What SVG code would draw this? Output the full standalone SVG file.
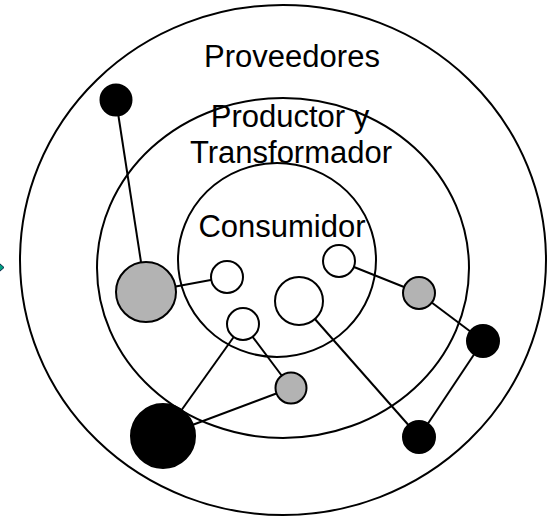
<svg xmlns="http://www.w3.org/2000/svg" width="553" height="518" viewBox="0 0 553 518">
<style>
.ring{fill:none;stroke:#000;stroke-width:2}
.lbl{font-family:"Liberation Sans",Arial,sans-serif;font-size:31px;fill:#000;text-anchor:middle}
.edge{stroke:#000;stroke-width:2;fill:none}
.w{fill:#fff;stroke:#000;stroke-width:2}
.g{fill:#b3b3b3;stroke:#000;stroke-width:2}
.b{fill:#000;stroke:#000;stroke-width:2}
</style>
<rect width="553" height="518" fill="#fff"/>
<g id="rings">
<ellipse class="ring" cx="283" cy="260" rx="263" ry="255"/>
<ellipse class="ring" cx="283" cy="268" rx="186" ry="170"/>
<ellipse class="ring" cx="277" cy="260" rx="99" ry="97"/>
</g>
<polygon id="marker-left" points="-1,263 4,267.5 -1,272" fill="#00a080" stroke="#024" stroke-width="1"/>
<g id="labels">
<text class="lbl" x="292" y="67">Proveedores</text>
<text class="lbl" x="290" y="127">Productor y</text>
<text class="lbl" x="291" y="163">Transformador</text>
<text class="lbl" x="282" y="237">Consumidor</text>
</g>
<g id="connectors">
<line class="edge" x1="116" y1="100" x2="141" y2="262"/>
<line class="edge" x1="146" y1="292" x2="227" y2="277"/>
<line class="edge" x1="243" y1="324" x2="163" y2="436"/>
<line class="edge" x1="243" y1="324" x2="291" y2="388"/>
<line class="edge" x1="163" y1="436" x2="291" y2="388"/>
<line class="edge" x1="299" y1="301" x2="419" y2="437"/>
<line class="edge" x1="339" y1="261" x2="419" y2="293"/>
<line class="edge" x1="419" y1="293" x2="483" y2="341"/>
<line class="edge" x1="483" y1="341" x2="419" y2="437"/>
</g>
<g id="n-black-top"><circle class="b" cx="116" cy="100" r="15.5"/></g>
<g id="n-gray-left"><circle class="g" cx="146" cy="292" r="30"/></g>
<g id="n-white-1"><circle class="w" cx="227" cy="277" r="16"/></g>
<g id="n-white-2"><circle class="w" cx="243" cy="324" r="16"/></g>
<g id="n-white-mid"><circle class="w" cx="299" cy="301" r="24"/></g>
<g id="n-white-3"><circle class="w" cx="339" cy="261" r="16"/></g>
<g id="n-gray-right"><circle class="g" cx="419" cy="293" r="16"/></g>
<g id="n-black-right"><circle class="b" cx="483" cy="341" r="16"/></g>
<g id="n-black-bottom-right"><circle class="b" cx="419" cy="437" r="16"/></g>
<g id="n-gray-bottom"><circle class="g" cx="291" cy="388" r="15.5"/></g>
<g id="n-black-big"><circle class="b" cx="163" cy="436" r="32"/></g>
</svg>
